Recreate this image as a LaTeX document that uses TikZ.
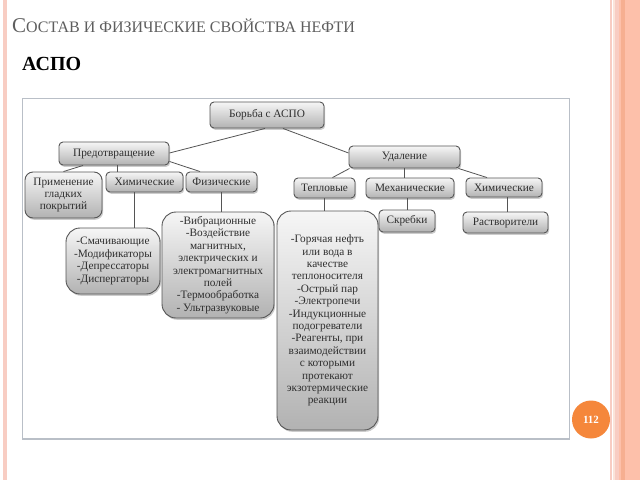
\documentclass[tikz,border=0pt]{standalone}
\usepackage{fontspec}
\setmainfont{Liberation Serif}
\usetikzlibrary{shadows}

\definecolor{boxline}{HTML}{555555}
\definecolor{boxtop}{HTML}{F6F6F6}
\definecolor{boxbot}{HTML}{B2B2B2}
\definecolor{boxtext}{HTML}{2E2E2E}
\definecolor{titlegrey}{HTML}{5E5E5E}
\definecolor{framegrey}{HTML}{B9BFC7}
\definecolor{pinkline}{HTML}{F8CDC3}
\definecolor{creamline}{HTML}{FBE4DA}
\definecolor{salmon}{HTML}{FDC0AA}
\definecolor{darksalmon}{HTML}{F6AF91}
\definecolor{pageorange}{HTML}{F5873B}

\tikzset{
  blk/.style={draw=boxline, line width=0.9pt, rounded corners=4pt,
    top color=boxtop, bottom color=boxbot, text=boxtext,
    font=\fontsize{11.3}{12.4}\selectfont, align=center, inner sep=1pt,
    drop shadow={shadow xshift=1.2pt, shadow yshift=-1.8pt, opacity=0.4}},
  bigblk/.style={blk, rounded corners=14pt},
  link/.style={draw=boxline, line width=0.8pt},
}

\begin{document}
\begin{tikzpicture}[x=1pt,y=-1pt]
    \useasboundingbox (0,0) rectangle (640,480);
    \fill[white] (0,0) rectangle (640,480);

    \fill[pinkline] (3,0) rectangle (6.5,480);
    \fill[pinkline] (609.5,0) rectangle (611.5,480);
    \fill[creamline] (612.5,0) rectangle (615,480);
    \fill[pinkline] (615,0) rectangle (619,480);
    \fill[salmon] (619,0) rectangle (640,480);
    \fill[darksalmon] (621,0) rectangle (625,480);

    \node[anchor=base west, inner sep=0, text=titlegrey] (title) at (12,32)
        {{\fontsize{21}{21}\selectfont С}{\fontsize{16}{16}\selectfont ОСТАВ И ФИЗИЧЕСКИЕ СВОЙСТВА НЕФТИ}};
    \node[anchor=base west, inner sep=0, font=\bfseries\fontsize{20}{20}\selectfont] (aspo) at (22,70) {АСПО};

    \draw[framegrey, line width=0.6pt] (22,98) rectangle (569,439);
    \draw[framegrey, line width=1.6pt] (22.5,98) -- (22.5,438.5) -- (569,438.5);

    \node[blk, minimum width=114pt, minimum height=26pt] (bor) at (267,115) {Борьба с АСПО};
    \node[blk, minimum width=110pt, minimum height=23pt] (pred) at (114,153.5) {Предотвращение};
    \node[blk, minimum width=111pt, minimum height=22pt] (udal) at (404.5,157) {Удаление};

    \node[blk, rounded corners=8pt, minimum width=77pt, minimum height=46pt] (prim) at (63.5,195) {Применение\\гладких\\покрытий};
    \node[blk, minimum width=77pt, minimum height=20pt] (himL) at (144.5,182) {Химические};
    \node[blk, minimum width=71pt, minimum height=20pt] (fiz) at (221.5,182) {Физические};
    \node[bigblk, minimum width=94pt, minimum height=66pt] (smach) at (113,261)
        {-Смачивающие\\-Модификаторы\\-Депрессаторы\\-Диспергаторы};
    \node[bigblk, minimum width=112pt, minimum height=106pt] (vibr) at (218,265)
        {-Вибрационные\\-Воздействие\\магнитных,\\электрических и\\электромагнитных\\полей\\-Термообработка\\- Ультразвуковые};

    \node[blk, minimum width=61pt, minimum height=20pt] (tepl) at (324.5,188) {Тепловые};
    \node[blk, minimum width=88pt, minimum height=20pt] (meh) at (410,188) {Механические};
    \node[blk, minimum width=76pt, minimum height=19pt] (himR) at (504,187.5) {Химические};
    \node[blk, minimum width=56pt, minimum height=22pt] (skreb) at (407,221) {Скребки};
    \node[blk, minimum width=85pt, minimum height=21pt] (rastv) at (505.5,222.5) {Растворители};
    \node[bigblk, minimum width=101pt, minimum height=219pt] (gor) at (327.5,320.5)
        {-Горячая нефть\\или вода в\\качестве\\теплоносителя\\-Острый пар\\-Электропечи\\-Индукционные\\подогреватели\\-Реагенты, при\\взаимодействии\\с которыми\\протекают\\экзотермические\\реакции};

    \draw[link] ([xshift=-2pt]bor.south) -- ([yshift=0.5pt]pred.east);
    \draw[link] ([xshift=16pt]bor.south) -- ([yshift=4pt]udal.west);
    \draw[link] ([xshift=-31pt]pred.south) -- (prim.north);
    \draw[link] ([xshift=3pt]pred.south) -- ([xshift=3pt]pred.south |- himL.north);
    \draw[link] ([yshift=4pt]pred.south east) -- ([xshift=-21.5pt]fiz.north);
    \draw[link] ([xshift=-10.5pt]himL.south) -- ([xshift=-10.5pt]himL.south |- smach.north);
    \draw[link] (fiz.south) -- (fiz.south |- vibr.north);
    \draw[link] ([xshift=1pt]udal.south west) -- ([xshift=8pt]tepl.north);
    \draw[link] (udal.south) -- (udal.south |- meh.north);
    \draw[link] ([xshift=-2pt]udal.south east) -- ([xshift=-17pt]himR.north);
    \draw[link] (tepl.south) -- (tepl.south |- gor.north);
    \draw[link] ([xshift=-3pt]meh.south) -- ([xshift=-3pt]meh.south |- skreb.north);
    \draw[link] ([xshift=3pt]himR.south) -- ([xshift=3pt]himR.south |- rastv.north);

    \node[circle, fill=pageorange, minimum size=38pt, inner sep=0, text=white,
        font=\bfseries\fontsize{11}{11}\selectfont] (page) at (591,419.5) {112};
\end{tikzpicture}
\end{document}
